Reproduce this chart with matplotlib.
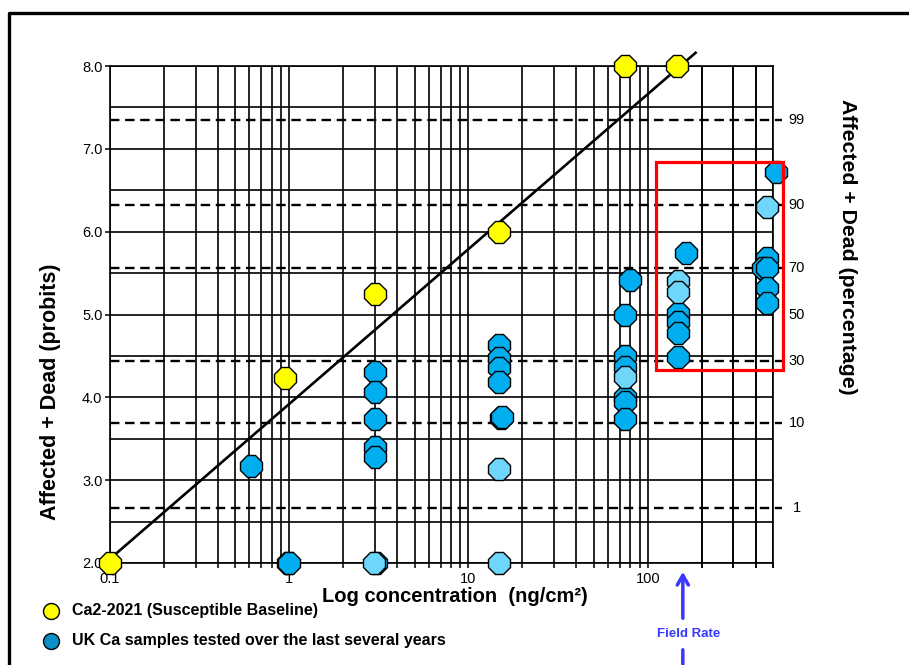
import matplotlib
matplotlib.use("Agg")
import matplotlib.pyplot as plt
import matplotlib.ticker as mticker
from matplotlib.lines import Line2D
from matplotlib.patches import Rectangle
import numpy as np

plt.rcParams['font.family'] = ['Liberation Sans', 'DejaVu Sans']

# Susceptible baseline (yellow)
base_conc = [0.1, 0.95, 3.0, 14.8, 74.5, 145]
base_probit = [2.0, 4.23, 5.25, 6.0, 8.0, 8.0]

# UK samples, darker blue
uk_conc = [0.61, 0.98, 1.0,
           3.0, 3.0, 3.0, 3.0, 3.0, 3.05,
           14.8, 14.8, 14.8, 14.8, 15.1, 15.4,
           74.5, 74.5, 74.5, 74.5, 74.5, 74.5, 80,
           148, 148, 148, 148, 163,
           465, 440, 465, 465, 465, 520]
uk_probit = [3.17, 2.0, 2.0,
             4.30, 4.07, 3.74, 3.40, 3.28, 2.0,
             4.63, 4.47, 4.36, 4.18, 3.75, 3.76,
             5.00, 4.50, 4.37, 4.00, 3.94, 3.74, 5.42,
             5.02, 4.91, 4.78, 4.49, 5.74,
             5.68, 5.56, 5.56, 5.32, 5.14, 6.72]

# UK samples, lighter blue
uk_light_conc = [2.96, 14.8, 14.8, 74.5, 148, 148, 460]
uk_light_probit = [2.0, 3.14, 2.0, 4.24, 5.40, 5.27, 6.30]

# probit regression line of the baseline
fit_intercept = 3.92
fit_slope = 1.87
fit_range = [0.1, 185]

# percentage reference lines (right axis)
pct_labels = ["99", "90", "70", "50", "30", "10", "1"]
pct_probits = [7.35, 6.32, 5.56, 5.0, 4.44, 3.69, 2.66]
dashed_probits = [7.35, 6.32, 5.56, 4.44, 3.69, 2.66]

# field rate box
box_x = [111, 571]
box_y = [4.33, 6.84]
field_rate = 157

W, H = 909, 665
fig = plt.figure(figsize=(W / 100, H / 100), dpi=100)
ax = fig.add_axes([110 / W, 1 - 563 / H, (773 - 110) / W, (563 - 66) / H])
ax.set_xscale("log")
ax.set_xlim(0.1, 500)
ax.set_ylim(2.0, 8.0)

# grid
grid_x = [m * 10.0 ** e for e in range(-1, 3) for m in range(1, 10)] + [100 * m for m in range(2, 6)]
for gx in grid_x:
    ax.axvline(gx, color="black", lw=1.2, zorder=1)
for gy in np.arange(2.0, 8.01, 0.5):
    ax.axhline(gy, color="black", lw=1.2, zorder=1)
for dy in dashed_probits:
    ax.plot([0, 1.013], [dy, dy], transform=ax.get_yaxis_transform(), color="black",
            lw=1.7, dashes=(4, 2.4), clip_on=False, zorder=2)

for s in ax.spines.values():
    s.set_linewidth(1.2)

# regression line
lx = np.array(fit_range)
ax.plot(lx, fit_intercept + fit_slope * np.log10(lx), color="black", lw=1.9, clip_on=False, zorder=3)

mk = dict(marker="8", ms=16.5, mec="black", mew=1.0, ls="none", clip_on=False, zorder=4)
ax.plot(base_conc, base_probit, mfc="#FFFF00", **mk)
ax.plot(uk_conc, uk_probit, mfc="#00AEEF", **mk)
ax.plot(uk_light_conc, uk_light_probit, mfc="#6DD6FA", **mk)

# ticks
ax.xaxis.set_major_locator(mticker.FixedLocator([0.1, 1, 10, 100]))
ax.xaxis.set_major_formatter(mticker.FixedFormatter(["0.1", "1", "10", "100"]))
ax.xaxis.set_minor_locator(mticker.FixedLocator(grid_x))
ax.xaxis.set_minor_formatter(mticker.NullFormatter())
ax.set_yticks([2, 3, 4, 5, 6, 7, 8])
ax.set_yticklabels(["2.0", "3.0", "4.0", "5.0", "6.0", "7.0", "8.0"])
ax.tick_params(axis="both", which="both", direction="out", length=3.5, width=1.1,
               labelsize=10.5, pad=3, colors="black")
ax.tick_params(axis="y", pad=2)

for lab, py in zip(pct_labels, pct_probits):
    ax.text(1.036, py, lab, transform=ax.get_yaxis_transform(), fontsize=10.5,
            ha="center", va="center")

# field rate box
ax.add_patch(Rectangle((box_x[0], box_y[0]), box_x[1] - box_x[0], box_y[1] - box_y[0],
                       fill=False, ec="#FF0000", lw=2.3, clip_on=False, zorder=5))

# axis labels
fig.text(455 / W, 1 - 596 / H, "Log concentration  (ng/cm²)", fontsize=14.5, weight="bold",
         ha="center", va="center")
fig.text(51 / W, 1 - 392 / H, "Affected + Dead (probits)", fontsize=15.5, weight="bold",
         ha="center", va="center", rotation=90)
fig.text(848 / W, 1 - 247 / H, "Affected + Dead (percentage)", fontsize=15.3, weight="bold",
         ha="center", va="center", rotation=270)

# legend
fig.add_artist(Line2D([51 / W], [1 - 611 / H], marker="o", ms=11.5, mfc="#FFFF00",
                      mec="black", mew=1.0, transform=fig.transFigure))
fig.add_artist(Line2D([51 / W], [1 - 641 / H], marker="o", ms=11.5, mfc="#0A8FC7",
                      mec="black", mew=1.0, transform=fig.transFigure))
fig.text(72 / W, 1 - 610 / H, "Ca2-2021 (Susceptible Baseline)", fontsize=11.5,
         weight="bold", va="center")
fig.text(72 / W, 1 - 640 / H, "UK Ca samples tested over the last several years", fontsize=11.5,
         weight="bold", va="center")

# field rate arrow
arrow_col = "#3838FF"
ax.annotate("", xy=(field_rate, H - 569), xycoords=("data", "figure pixels"),
            xytext=(field_rate, H - 621), textcoords=("data", "figure pixels"),
            arrowprops=dict(arrowstyle="->,head_length=0.7,head_width=0.4", color=arrow_col, lw=2.5),
            annotation_clip=False)
ax.annotate("", xy=(field_rate, H - 647), xycoords=("data", "figure pixels"),
            xytext=(field_rate, -5), textcoords=("data", "figure pixels"),
            arrowprops=dict(arrowstyle="-", color=arrow_col, lw=2.5), annotation_clip=False)
fig.text(689 / W, 1 - 634 / H, "Field Rate", fontsize=9.5, weight="bold", color=arrow_col,
         ha="center", va="center")

# outer frame
fig.add_artist(Line2D([9 / W, 9 / W, 1.01], [-0.01, 1 - 13 / H, 1 - 13 / H], color="black",
                      lw=2.4, transform=fig.transFigure))

fig.savefig("out.png", dpi=100)
